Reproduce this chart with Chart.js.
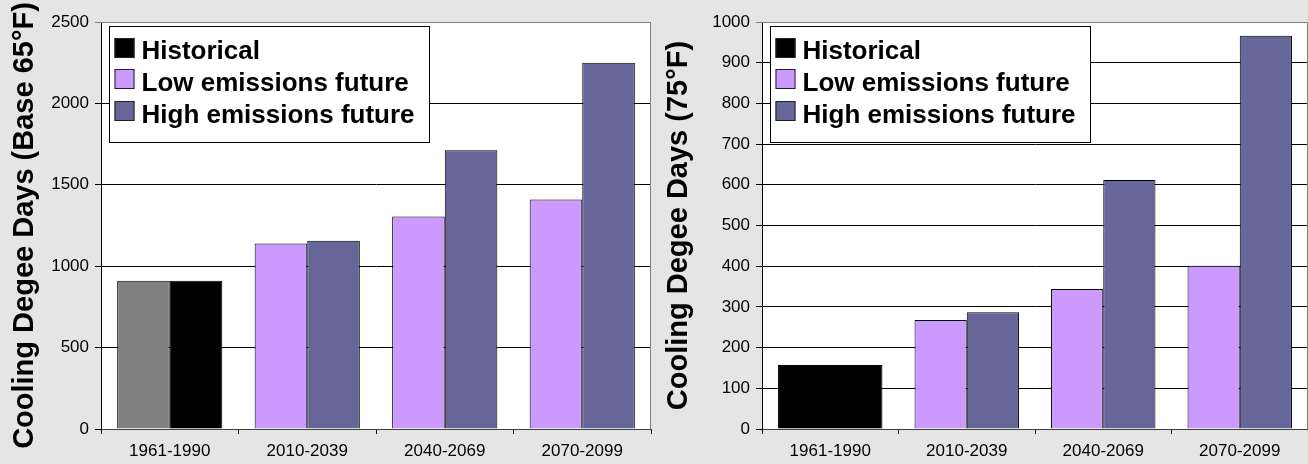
<!DOCTYPE html>
<html>
<head>
<meta charset="utf-8">
<script src="https://cdn.jsdelivr.net/npm/chart.js@4"></script>
<style>
  html, body { margin: 0; padding: 0; background: #e5e5e5; }
  #wrap { position: relative; width: 1308px; height: 464px; overflow: hidden; }
  canvas { position: absolute; top: 0; }
</style>
</head>
<body>
<div id="wrap">
  <canvas id="cdd65" width="654" height="464" style="left:0"></canvas>
  <canvas id="cdd75" width="654" height="464" style="left:654px"></canvas>
</div>
<script>
// Periods on the category axis
const periods = ['1961-1990', '2010-2039', '2040-2069', '2070-2099'];
const seriesNames = ['Historical', 'Low emissions future', 'High emissions future'];
const seriesColors = ['#000000', '#cc99ff', '#666699'];
const historicalShade = '#808080';

// Cooling degree days, base 65°F (two historical estimates: gray, black)
const cdd65Historical = [910, 910];
const cdd65Low = [1140, 1305, 1410];
const cdd65High = [1157, 1712, 2250];
const cdd65Ticks = [0, 500, 1000, 1500, 2000, 2500];

// Cooling degree days, base 75°F
const cdd75Historical = [157];
const cdd75Low = [268, 344, 401];
const cdd75High = [287, 612, 966];
const cdd75Ticks = [0, 100, 200, 300, 400, 500, 600, 700, 800, 900, 1000];

const FONT = "'Liberation Sans', Arial, sans-serif";

// White plot area, gray frame on top/right, and a boxed legend inside the plot
const plotFrame = {
  id: 'plotFrame',
  beforeDraw(chart) {
    const { ctx, chartArea: a } = chart;
    ctx.save();
    ctx.fillStyle = '#ffffff';
    ctx.fillRect(a.left, a.top, a.right - a.left, a.bottom - a.top);
    ctx.restore();
  },
  afterDatasetsDraw(chart) {
    const { ctx, chartArea: a } = chart;
    ctx.save();
    ctx.strokeStyle = '#808080';
    ctx.lineWidth = 1;
    ctx.beginPath();
    ctx.moveTo(a.left, a.top + 0.5);
    ctx.lineTo(a.right - 0.5, a.top + 0.5);
    ctx.lineTo(a.right - 0.5, a.bottom);
    ctx.stroke();
    ctx.restore();
  }
};

const boxLegend = {
  id: 'boxLegend',
  afterDraw(chart, args, opts) {
    const { ctx, chartArea: a } = chart;
    const items = opts.items || [];
    ctx.save();
    ctx.font = 'bold 26px ' + FONT;
    let maxW = 0;
    items.forEach(it => { maxW = Math.max(maxW, ctx.measureText(it.text).width); });
    const x = Math.round(a.left + 8) + 0.5;
    const y = Math.round(a.top + 4) + 0.5;
    const w = Math.round(32 + maxW + 15);
    const h = 116;
    ctx.fillStyle = '#ffffff';
    ctx.fillRect(x, y, w, h);
    ctx.strokeStyle = '#000000';
    ctx.lineWidth = 1;
    ctx.strokeRect(x, y, w, h);
    items.forEach((it, i) => {
      const sy = Math.round(y + 11 + i * 31.5);
      ctx.fillStyle = it.color;
      ctx.fillRect(x + 5, sy, 20, 20);
      ctx.strokeStyle = '#222222';
      ctx.strokeRect(x + 5 + 0.5, sy + 0.5, 19, 19);
      ctx.fillStyle = '#000000';
      ctx.textBaseline = 'alphabetic';
      ctx.textAlign = 'left';
      ctx.fillText(it.text, x + 32, y + 32 + i * 32);
    });
    ctx.restore();
  }
};

function makeOptions(ticks, yTitle, axisWidth, padRight, legendItems) {
  return {
    responsive: false,
    animation: false,
    layout: { padding: { top: 22, right: padRight, bottom: 0, left: 0 } },
    datasets: {
      bar: {
        categoryPercentage: 0.765,
        barPercentage: 1.0,
        borderWidth: 1,
        borderColor: '#000000'
      }
    },
    plugins: {
      legend: { display: false },
      tooltip: { enabled: false },
      boxLegend: { items: legendItems }
    },
    scales: {
      x: {
        afterFit: s => { s.height = 35; },
        grid: { display: true, drawOnChartArea: false, offset: true, tickLength: 5, color: '#000000' },
        border: { color: '#404040', width: 1 },
        ticks: { color: '#000000', font: { family: FONT, size: 17 }, padding: 7, maxRotation: 0 }
      },
      y: {
        min: ticks[0],
        max: ticks[ticks.length - 1],
        afterBuildTicks: s => { s.ticks = ticks.map(v => ({ value: v })); },
        afterFit: s => { s.width = axisWidth; },
        grid: {
          color: c => (c.tick && c.tick.value === ticks[ticks.length - 1]) ? '#808080' : '#000000',
          lineWidth: 1,
          tickLength: 6
        },
        border: { color: '#000000', width: 1 },
        ticks: {
          color: '#000000',
          font: { family: FONT, size: 17 },
          padding: 6,
          callback: v => String(v)
        },
        title: {
          display: true,
          text: yTitle,
          color: '#000000',
          font: { family: FONT, size: 29, weight: 'bold' },
          padding: { top: 8, bottom: 0 }
        }
      }
    }
  };
}

const legendItems = seriesNames.map((n, i) => ({ text: n, color: seriesColors[i] }));

// Base 65°F: historical pair sits in the low/high slots of the first period
new Chart(document.getElementById('cdd65'), {
  type: 'bar',
  data: {
    labels: periods,
    datasets: [
      {
        label: seriesNames[1],
        data: [cdd65Historical[0], ...cdd65Low],
        backgroundColor: [historicalShade, ...cdd65Low.map(() => seriesColors[1])]
      },
      {
        label: seriesNames[2],
        data: [cdd65Historical[1], ...cdd65High],
        backgroundColor: [seriesColors[0], ...cdd65High.map(() => seriesColors[2])]
      }
    ]
  },
  options: makeOptions(cdd65Ticks, 'Cooling Degee Days (Base 65°F)', 101, 3, legendItems),
  plugins: [plotFrame, boxLegend]
});

// Base 75°F: a single full-width historical bar
new Chart(document.getElementById('cdd75'), {
  type: 'bar',
  data: {
    labels: periods,
    datasets: [
      {
        label: seriesNames[0],
        data: [cdd75Historical[0], null, null, null],
        backgroundColor: seriesColors[0],
        grouped: false
      },
      {
        label: seriesNames[1],
        data: [null, ...cdd75Low],
        backgroundColor: seriesColors[1]
      },
      {
        label: seriesNames[2],
        data: [null, ...cdd75High],
        backgroundColor: seriesColors[2]
      }
    ]
  },
  options: makeOptions(cdd75Ticks, 'Cooling Degee Days (75°F)', 108, 0, legendItems),
  plugins: [plotFrame, boxLegend]
});
</script>
</body>
</html>
